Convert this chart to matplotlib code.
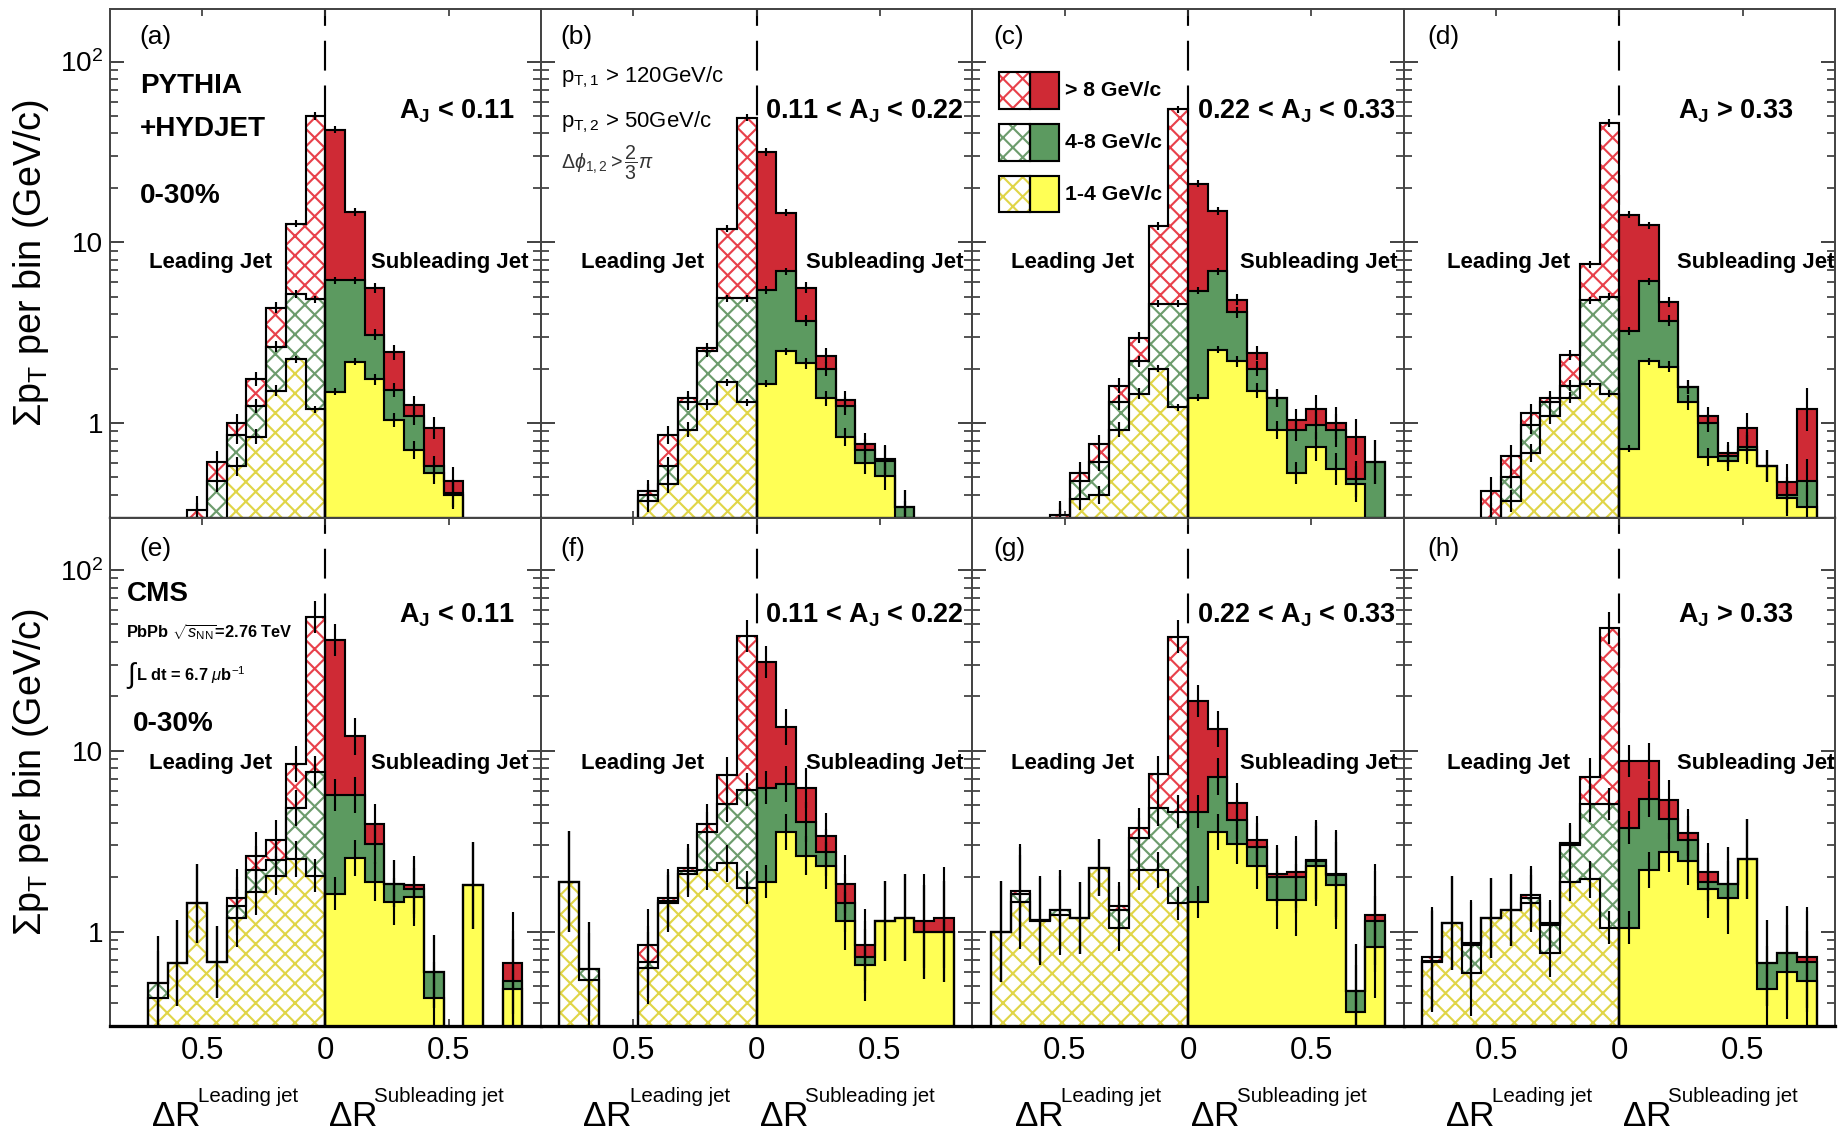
import numpy as np
import matplotlib
matplotlib.use("Agg")
import matplotlib.pyplot as plt
import matplotlib.transforms as mtrans
from matplotlib.patches import Rectangle
from matplotlib.ticker import FixedLocator, FixedFormatter, LogLocator, NullFormatter, NullLocator

plt.rcParams['font.family'] = ['Liberation Sans', 'DejaVu Sans']
plt.rcParams['mathtext.fontset'] = 'custom'
plt.rcParams['mathtext.rm'] = 'Liberation Sans'
plt.rcParams['mathtext.it'] = 'Liberation Sans:italic'
plt.rcParams['mathtext.bf'] = 'Liberation Sans:bold'
plt.rcParams['mathtext.sf'] = 'Liberation Sans'
plt.rcParams['hatch.linewidth'] = 1.3

# ---------------------------------------------------------------- data
# Delta R bins (same for leading side, drawn mirrored to negative x, and subleading side)
bin_edges = [0.0, 0.08, 0.16, 0.24, 0.32, 0.40, 0.48, 0.56, 0.64, 0.72, 0.80]
pt_ranges = ['1-4 GeV/c', '4-8 GeV/c', '> 8 GeV/c']
panel_tags = ['(a)', '(b)', '(c)', '(d)', '(e)', '(f)', '(g)', '(h)']

# Stacked sum-pT per bin (GeV/c); rows: [1-4], [1-4 + 4-8], [1-4 + 4-8 + >8]
# bin 0 is the bin next to the jet axis (Delta R = 0-0.08)
# PYTHIA+HYDJET
a_lead = [[1.19, 2.25, 1.51, 0.84, 0.575, 0.25, 0.25, 0, 0, 0],
          [4.84, 5.17, 2.65, 1.24, 0.86, 0.48, 0.30, 0, 0, 0],
          [50.0, 12.7, 4.35, 1.75, 1.00, 0.61, 0.33, 0, 0, 0]]
a_sub = [[1.49, 2.18, 1.75, 1.04, 0.71, 0.53, 0.40, 0, 0, 0],
         [6.15, 6.15, 3.08, 1.52, 1.10, 0.575, 0.41, 0, 0, 0],
         [42.0, 14.7, 5.59, 2.46, 1.26, 0.94, 0.475, 0, 0, 0]]
b_lead = [[1.30, 1.68, 1.27, 0.92, 0.46, 0.37, 0, 0, 0, 0],
          [4.89, 4.89, 2.49, 1.30, 0.58, 0.40, 0, 0, 0, 0],
          [48.9, 11.9, 2.60, 1.38, 0.86, 0.42, 0, 0, 0, 0]]
b_sub = [[1.65, 2.49, 2.14, 1.37, 0.84, 0.60, 0.51, 0.30, 0, 0],
         [5.44, 6.90, 3.68, 1.99, 1.24, 0.71, 0.62, 0.345, 0, 0],
         [31.6, 14.6, 5.60, 2.36, 1.34, 0.77, 0.63, 0.345, 0, 0]]
c_lead = [[1.22, 2.00, 1.45, 0.92, 0.40, 0.38, 0.28, 0, 0, 0],
          [4.58, 4.58, 2.20, 1.30, 0.61, 0.48, 0.30, 0, 0, 0],
          [54.4, 12.3, 2.96, 1.61, 0.77, 0.53, 0.31, 0, 0, 0]]
c_sub = [[1.38, 2.54, 2.19, 1.51, 0.92, 0.53, 0.74, 0.556, 0.46, 0.20],
         [5.40, 6.91, 4.10, 2.00, 1.38, 0.91, 0.98, 0.91, 0.49, 0.61],
         [21.1, 14.9, 4.82, 2.44, 1.38, 1.04, 1.19, 1.00, 0.84, 0.61]]
d_lead = [[1.45, 1.65, 1.38, 1.09, 0.68, 0.37, 0.28, 0, 0, 0],
          [4.99, 4.78, 1.61, 1.30, 0.98, 0.50, 0.30, 0, 0, 0],
          [45.7, 7.54, 2.38, 1.38, 1.14, 0.66, 0.42, 0, 0, 0]]
d_sub = [[0.72, 2.19, 2.05, 1.30, 0.65, 0.62, 0.71, 0.58, 0.385, 0.345],
         [3.23, 6.07, 3.68, 1.58, 1.00, 0.66, 0.74, 0.58, 0.40, 0.48],
         [14.2, 12.4, 4.67, 1.58, 1.10, 0.68, 0.94, 0.58, 0.47, 1.19]]
# CMS data
e_lead = [[2.04, 2.52, 2.04, 1.66, 1.19, 0.68, 1.43, 0.67, 0.43, 0],
          [7.65, 4.84, 2.50, 2.20, 1.39, 0.68, 1.43, 0.67, 0.52, 0],
          [55.1, 8.47, 3.22, 2.63, 1.54, 0.68, 1.43, 0.67, 0.52, 0]]
e_sub = [[1.62, 2.56, 1.89, 1.46, 1.55, 0.43, 0, 1.80, 0, 0.48],
         [5.70, 5.70, 3.06, 1.84, 1.72, 0.60, 0, 1.80, 0, 0.53],
         [41.0, 12.0, 3.95, 1.84, 1.80, 0.60, 0, 1.80, 0, 0.67]]
f_lead = [[1.75, 2.38, 2.20, 2.09, 1.43, 0.63, 0, 0, 0.54, 1.89],
          [6.09, 5.09, 3.57, 2.15, 1.47, 0.68, 0, 0, 0.62, 1.89],
          [43.2, 7.35, 3.95, 2.26, 1.54, 0.84, 0, 0, 0.62, 1.89]]
f_sub = [[1.89, 3.57, 2.63, 2.31, 1.14, 0.65, 1.14, 1.19, 0.99, 1.00],
         [6.25, 6.57, 4.05, 2.74, 1.44, 0.72, 1.14, 1.19, 0.99, 1.00],
         [31.0, 13.5, 6.25, 3.36, 1.84, 0.84, 1.14, 1.19, 1.14, 1.19]]
g_lead = [[1.43, 2.20, 2.20, 1.05, 2.26, 1.19, 1.23, 1.14, 1.46, 1.00],
          [4.60, 4.84, 3.31, 1.32, 2.26, 1.19, 1.32, 1.16, 1.62, 1.00],
          [42.8, 7.46, 3.75, 1.39, 2.26, 1.19, 1.32, 1.16, 1.68, 1.00]]
g_sub = [[1.46, 3.57, 3.06, 2.31, 1.50, 1.50, 2.31, 1.80, 0.36, 0.82],
         [4.60, 7.20, 4.16, 2.94, 2.00, 2.00, 2.44, 2.05, 0.47, 1.14],
         [18.8, 13.2, 5.15, 3.22, 2.09, 2.14, 2.50, 2.09, 0.47, 1.24]]
h_lead = [[1.05, 1.94, 1.89, 0.76, 1.43, 1.32, 1.19, 0.59, 1.11, 0.68],
          [5.09, 5.09, 3.00, 1.08, 1.54, 1.32, 1.19, 0.84, 1.11, 0.69],
          [47.8, 7.20, 3.09, 1.11, 1.60, 1.32, 1.19, 0.86, 1.11, 0.72]]
h_sub = [[1.05, 2.20, 2.74, 2.44, 1.71, 1.54, 2.52, 0.48, 0.60, 0.53],
         [3.75, 5.42, 4.20, 3.22, 1.89, 1.84, 2.52, 0.67, 0.76, 0.68],
         [8.78, 8.78, 5.36, 3.53, 2.14, 1.84, 2.52, 0.67, 0.76, 0.72]]

# approximate error-bar half-lengths (in decades) per Delta R bin
sim_err_dex = [0.02, 0.02, 0.03, 0.04, 0.05, 0.06, 0.08, 0.09, 0.10, 0.12]
data_err_dex = [0.09, 0.10, 0.11, 0.13, 0.16, 0.20, 0.22, 0.24, 0.26, 0.28]

# ---------------------------------------------------------------- style
DPI = 118
SOLID = ['#ffff55', '#5c9a60', '#cf2a35']
HATCH = ['#e0d548', '#6d9c6d', '#e8414b']
FLOOR = 1e-3
LW = 1.3

panels = [(a_lead, a_sub), (b_lead, b_sub), (c_lead, c_sub), (d_lead, d_sub),
          (e_lead, e_sub), (f_lead, f_sub), (g_lead, g_sub), (h_lead, h_sub)]

fig, axes = plt.subplots(2, 4, figsize=(1842 / DPI, 1134 / DPI), dpi=DPI,
                         sharex=True, sharey=True)
fig.subplots_adjust(left=0.0595, right=0.9962, top=0.992, bottom=0.0952,
                    wspace=0, hspace=0)

edges_sub = np.asarray(bin_edges, float)
edges_lead = -edges_sub[::-1]
centers = 0.5 * (edges_sub[1:] + edges_sub[:-1])


def draw_side(ax, levels, leading, err_dex):
    lev = [np.asarray(l, float) for l in levels]
    if leading:
        edges = edges_lead
        vals = [l[::-1] for l in lev]
        xc = -centers[::-1]
        errs = np.asarray(err_dex)[::-1]
    else:
        edges = edges_sub
        vals = lev
        xc = centers
        errs = np.asarray(err_dex)
    for k in [2, 1, 0]:
        v = np.maximum(vals[k], FLOOR)
        if leading:
            ax.stairs(v, edges, baseline=FLOOR, fill=True, facecolor='white',
                      edgecolor=HATCH[k], hatch='xx', linewidth=0, zorder=2 + 0.1 * (2 - k))
        else:
            ax.stairs(v, edges, baseline=FLOOR, fill=True, facecolor=SOLID[k],
                      edgecolor='none', linewidth=0, zorder=2 + 0.1 * (2 - k))
    for k in [2, 1, 0]:
        v = np.maximum(vals[k], FLOOR)
        ax.stairs(v, edges, baseline=FLOOR, fill=False, color='black',
                  linewidth=LW, zorder=3)
        m = vals[k] > 0
        ax.vlines(xc[m], vals[k][m] * 10 ** (-errs[m]), vals[k][m] * 10 ** errs[m],
                  color='black', linewidth=LW, zorder=3.5)


def aj_label(col):
    if col == 0:
        return r'$\mathbf{A_{J}}$ < 0.11'
    if col == 1:
        return r'0.11 < $\mathbf{A_{J}}$ < 0.22'
    if col == 2:
        return r'0.22 < $\mathbf{A_{J}}$ < 0.33'
    return r'$\mathbf{A_{J}}$ > 0.33'


for i, ax in enumerate(axes.flat):
    lead, sub = panels[i]
    err = sim_err_dex if i < 4 else data_err_dex
    ax.axvline(0, color='black', linewidth=LW, linestyle=(0, (14, 7)), zorder=1)
    draw_side(ax, lead, True, err)
    draw_side(ax, sub, False, err)

    ax.set_xlim(-0.875, 0.875)
    ax.set_yscale('log')
    ax.set_ylim(0.3, 195)
    ax.yaxis.set_major_locator(FixedLocator([1, 10, 100]))
    ax.yaxis.set_major_formatter(FixedFormatter(['1', '10', r'$10^{2}$']))
    ax.yaxis.set_minor_locator(LogLocator(base=10, subs=[2, 3, 4, 5, 6, 7, 8, 9]))
    ax.yaxis.set_minor_formatter(NullFormatter())
    ax.xaxis.set_major_locator(FixedLocator([-0.5, 0, 0.5]))
    ax.xaxis.set_major_formatter(FixedFormatter(['0.5', '0', '0.5']))
    ax.xaxis.set_minor_locator(NullLocator())
    ax.tick_params(which='both', direction='in', left=True, right=True,
                   top=True, bottom=True, color='#333333')
    ax.tick_params(axis='y', which='major', length=8.5, width=1.1, labelsize=17, pad=4)
    ax.tick_params(axis='y', which='minor', length=5, width=1.0)
    ax.tick_params(axis='x', which='major', length=4, width=1.0, labelsize=19, pad=6)
    for s in ax.spines.values():
        s.set_linewidth(1.2)
        s.set_color('#444444')
    ax.spines['bottom'].set_color('black')
    ax.spines['bottom'].set_linewidth(2.0 if i >= 4 else 1.4)

    row = i // 4
    col = i % 4
    tag_x = [0.07, 0.046, 0.05, 0.054][col]
    ax.text(tag_x, 0.945 if row == 0 else 0.939, panel_tags[i], transform=ax.transAxes,
            fontsize=16, va='center', ha='left', zorder=6)
    aj_x = [0.67, 0.519, 0.521, 0.637][col]
    ax.text(aj_x, 0.80 if row == 0 else 0.807, aj_label(col), transform=ax.transAxes,
            fontsize=16.5, fontweight='bold', va='center', ha='left', zorder=6)
    ly = 0.502 if row == 0 else 0.516
    ax.text([0.092, 0.092, 0.089, 0.10][col], ly, 'Leading Jet', transform=ax.transAxes,
            fontsize=13.5, fontweight='bold', va='center', ha='left', zorder=6)
    ax.text([0.607, 0.615, 0.62, 0.633][col], ly, 'Subleading Jet', transform=ax.transAxes,
            fontsize=13.5, fontweight='bold', va='center', ha='left', zorder=6)

    if row == 1:
        tr = mtrans.blended_transform_factory(ax.transData, ax.transAxes)
        ax.text(-0.707, -0.197, r'$\Delta$R', transform=tr,
                fontsize=21.5, ha='left', va='baseline')
        ax.text(-0.515, -0.150, 'Leading jet', transform=tr,
                fontsize=12.5, ha='left', va='baseline')
        ax.text(0.010, -0.197, r'$\Delta$R', transform=tr,
                fontsize=21.5, ha='left', va='baseline')
        ax.text(0.197, -0.150, 'Subleading jet', transform=tr,
                fontsize=12.5, ha='left', va='baseline')

# panel (a) annotations
ax = axes[0, 0]
for txt, y in [('PYTHIA', 0.848), ('+HYDJET', 0.765), ('0-30%', 0.632)]:
    ax.text(0.071, y, txt, transform=ax.transAxes, fontsize=17, fontweight='bold',
            va='center', ha='left', zorder=6)

# panel (b) selection cuts
ax = axes[0, 1]
ax.text(0.046, 0.865, r'p$_{\mathrm{T,1}}$ > 120GeV/c', transform=ax.transAxes,
        fontsize=13.5, va='center', ha='left', zorder=6)
ax.text(0.046, 0.778, r'p$_{\mathrm{T,2}}$ > 50GeV/c', transform=ax.transAxes,
        fontsize=13.5, va='center', ha='left', zorder=6)
ax.text(0.046, 0.698, r'$\Delta\phi_{1,2} > \dfrac{2}{3}\pi$', transform=ax.transAxes,
        fontsize=12, va='center', ha='left', color='#333333', zorder=6)

# panel (c) legend
ax = axes[0, 2]
leg_rows = [(2, 0.84), (1, 0.738), (0, 0.636)]
bh = 0.072
for k, yc in leg_rows:
    ax.add_patch(Rectangle((0.062, yc - bh / 2), 0.071, bh, transform=ax.transAxes,
                           facecolor='white', edgecolor=HATCH[k], hatch='xx',
                           linewidth=0, zorder=6))
    ax.add_patch(Rectangle((0.133, yc - bh / 2), 0.068, bh, transform=ax.transAxes,
                           facecolor=SOLID[k], edgecolor='none', zorder=6))
    ax.add_patch(Rectangle((0.062, yc - bh / 2), 0.071, bh, transform=ax.transAxes,
                           fill=False, edgecolor='black', linewidth=LW, zorder=7))
    ax.add_patch(Rectangle((0.133, yc - bh / 2), 0.068, bh, transform=ax.transAxes,
                           fill=False, edgecolor='black', linewidth=LW, zorder=7))
    ax.text(0.214, yc, pt_ranges[k], transform=ax.transAxes, fontsize=13,
            fontweight='bold', va='center', ha='left', zorder=7)

# panel (e) annotations
ax = axes[1, 0]
ax.text(0.039, 0.85, 'CMS', transform=ax.transAxes, fontsize=17, fontweight='bold',
        va='center', ha='left', zorder=6)
ax.text(0.039, 0.775, r'PbPb $\sqrt{s_{\mathrm{NN}}}$=2.76 TeV', transform=ax.transAxes,
        fontsize=10, fontweight='bold', va='center', ha='left', zorder=6)
ax.text(0.037, 0.690, r'$\int$', transform=ax.transAxes,
        fontsize=17, va='center', ha='left', zorder=6)
ax.text(0.062, 0.690, r'L dt = 6.7 $\mu$b$^{-1}$', transform=ax.transAxes,
        fontsize=10, fontweight='bold', va='center', ha='left', zorder=6)
ax.text(0.055, 0.594, '0-30%', transform=ax.transAxes, fontsize=17, fontweight='bold',
        va='center', ha='left', zorder=6)

# y axis titles (one per row)
ylab = r'$\Sigma$p$_{\mathrm{T}}$ per bin (GeV/c)'
fig.text(0.0168, 0.768, ylab, rotation=90, fontsize=23, ha='center', va='center')
fig.text(0.0168, 0.3194, ylab, rotation=90, fontsize=23, ha='center', va='center')

fig.savefig('out.png', dpi=DPI)
